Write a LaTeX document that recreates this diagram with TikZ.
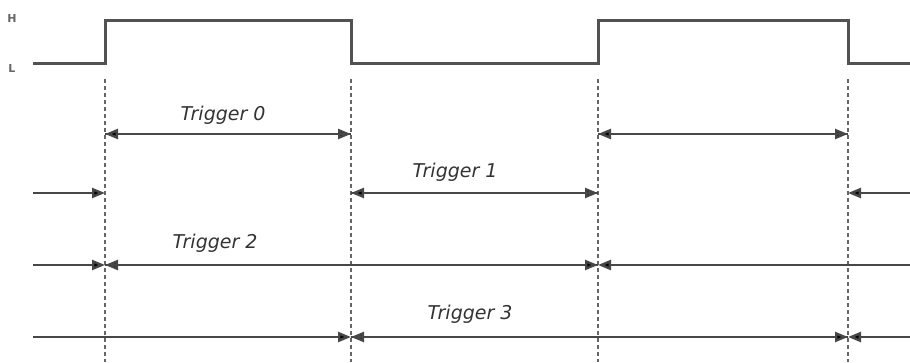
\documentclass[tikz,border=0pt]{standalone}
\usepackage{fontspec}
\setmainfont{DejaVu Sans}
\usetikzlibrary{arrows.meta}
\begin{document}
\begin{tikzpicture}[x=1pt,y=-1pt,
  sig/.style={draw=black!68,line width=3pt},
  guide/.style={draw=black!60,line width=2.4pt,dash pattern=on 4pt off 3pt},
  dim/.style={draw=black!72,line width=2.4pt},
  tip/.style={-{Triangle[length=13pt,width=10pt,fill=black]}},
  lbl/.style={font=\itshape\fontsize{19}{21}\selectfont,text=black!80,inner sep=0pt},
  lvl/.style={font=\bfseries\fontsize{11}{12}\selectfont,text=black!60,inner sep=0pt}]
\useasboundingbox (0,0) rectangle (910,362);
% level labels
\node[lvl] (H) at (12,18) {H};
\node[lvl] (L) at (12,68) {L};
% signal
\coordinate (s0) at (33,63);
\coordinate (s1) at (105,63);
\coordinate (s2) at (105,20);
\coordinate (s3) at (351,20);
\coordinate (s4) at (351,63);
\coordinate (s5) at (598,63);
\coordinate (s6) at (598,20);
\coordinate (s7) at (848,20);
\coordinate (s8) at (848,63);
\coordinate (s9) at (910,63);
\draw[sig] (s0) -- (s1) -- (s2) -- (s3) -- (s4) -- (s5) -- (s6) -- (s7) -- (s8) -- (s9);
% guides
\foreach \n/\x in {a/105,b/351,c/598,d/848}{
  \coordinate (\n t) at (\x,79);
  \coordinate (\n b) at (\x,362);
  \draw[guide] (\n t) -- (\n b);
}
% row y values
\foreach \n/\x in {a/105,b/351,c/598,d/848}{
  \coordinate (\n1) at (\x,134);
  \coordinate (\n2) at (\x,193);
  \coordinate (\n3) at (\x,265);
  \coordinate (\n4) at (\x,337);
}
\coordinate (l2) at (33,193);
\coordinate (r2) at (910,193);
\coordinate (l3) at (33,265);
\coordinate (r3) at (910,265);
\coordinate (l4) at (33,337);
\coordinate (r4) at (910,337);
% row 1
\draw[dim,tip] (a1) -- (b1);
\draw[dim,tip] (b1) -- (a1);
\draw[dim,tip] (c1) -- (d1);
\draw[dim,tip] (d1) -- (c1);
\node[lbl] (t0) at (223,115) {Trigger 0};
% row 2
\draw[dim,tip] (l2) -- (a2);
\draw[dim,tip] (b2) -- (c2);
\draw[dim,tip] (c2) -- (b2);
\draw[dim,tip] (r2) -- (d2);
\node[lbl] (t1) at (455,172) {Trigger 1};
% row 3
\draw[dim,tip] (l3) -- (a3);
\draw[dim,tip] (c3) -- (a3);
\draw[dim,tip] (a3) -- (c3);
\draw[dim,tip] (r3) -- (c3);
\node[lbl] (t2) at (215,243) {Trigger 2};
% row 4
\draw[dim,tip] (l4) -- (b4);
\draw[dim,tip] (d4) -- (b4);
\draw[dim,tip] (b4) -- (d4);
\draw[dim,tip] (r4) -- (d4);
\node[lbl] (t3) at (470,314) {Trigger 3};
\end{tikzpicture}
\end{document}
